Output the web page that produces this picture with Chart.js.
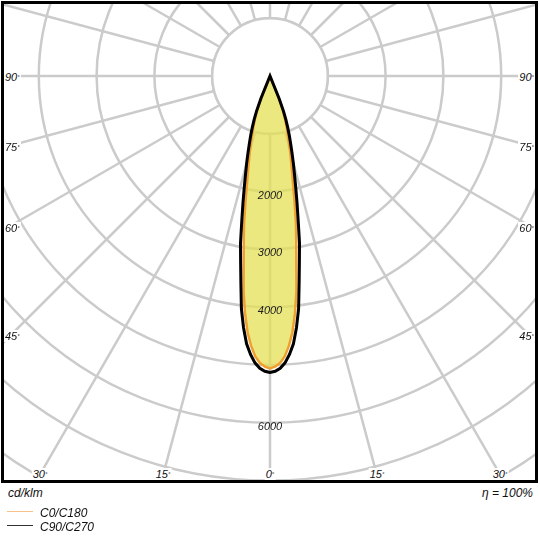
<!DOCTYPE html>
<html>
<head>
<meta charset="utf-8">
<script src="https://cdn.jsdelivr.net/npm/chart.js@4.4.1/dist/chart.umd.min.js"></script>
<style>
  body { margin: 0; background: #fff; font-family: "Liberation Sans", Arial, sans-serif; font-style: italic; color: #111; }
  #frame { position: absolute; left: 1px; top: 1px; width: 531px; height: 476px; border: 3px solid #000; overflow: hidden; }
  #wrap { position: absolute; left: -312px; top: -506px; width: 1156px; height: 1156px; }
  .ang { position: absolute; font-size: 11px; line-height: 12px; background: #fff; padding: 0 1px; white-space: nowrap; }
  .ang.b { transform: translateX(-50%); }
  .deg { font-size: 6px; vertical-align: top; }
  .txt { position: absolute; font-size: 12px; line-height: 14px; white-space: nowrap; }
  .key { position: absolute; left: 7px; width: 26px; height: 0; }
</style>
</head>
<body>
<div id="frame">
  <div id="wrap"><canvas id="polar"></canvas></div>
  <span class="ang" style="left:0;top:67px">90<span class="deg">°</span></span>
  <span class="ang" style="left:0;top:137px">75<span class="deg">°</span></span>
  <span class="ang" style="left:0;top:218px">60<span class="deg">°</span></span>
  <span class="ang" style="left:0;top:326px">45<span class="deg">°</span></span>
  <span class="ang" style="right:0;top:67px">90<span class="deg">°</span></span>
  <span class="ang" style="right:0;top:137px">75<span class="deg">°</span></span>
  <span class="ang" style="right:0;top:218px">60<span class="deg">°</span></span>
  <span class="ang" style="right:0;top:326px">45<span class="deg">°</span></span>
  <span class="ang b" style="left:36px;top:464px">30<span class="deg">°</span></span>
  <span class="ang b" style="left:159px;top:464px">15<span class="deg">°</span></span>
  <span class="ang b" style="left:266px;top:464px">0<span class="deg">°</span></span>
  <span class="ang b" style="left:373px;top:464px">15<span class="deg">°</span></span>
  <span class="ang b" style="left:496px;top:464px">30<span class="deg">°</span></span>
</div>
<span class="txt" style="left:8px;top:486px">cd/klm</span>
<span class="txt" style="right:7px;top:486px">η = 100%</span>
<div class="key" style="top:511px;border-top:1.5px solid #f5c38a"></div>
<span class="txt" style="left:40px;top:506px">C0/C180</span>
<div class="key" style="top:525px;border-top:1.5px solid #333"></div>
<span class="txt" style="left:40px;top:520px">C90/C270</span>

<script>
// gamma angles (deg from nadir) and intensities in cd/klm
const gammaAngles = [0, 1, 2, 3, 4, 5, 6, 7, 8, 9, 10, 11, 12, 13, 14, 15, 16, 17, 18, 19, 20, 21, 22, 23];
const c0c180 = [5060, 5030, 4970, 4860, 4680, 4450, 4130, 3750, 3270, 2900, 2580, 2230, 1920, 1690, 1500, 1340, 1180, 1050, 930, 810, 690, 540, 320, 0];
const c90c270 = [5130, 5110, 5060, 4970, 4830, 4650, 4380, 4060, 3620, 3250, 2940, 2560, 2250, 1980, 1750, 1560, 1380, 1220, 1080, 940, 800, 650, 420, 0];
const ringLabels = [2000, 3000, 4000, 6000];
const rMax = 10000;
const rStep = 1000;

const gridColor = '#cbcbcb';
const steps = 360;
const labels = [];
for (let i = 0; i < steps; i++) labels.push(String(i));

// full circle: one half-plane for C0 / C90, mirrored for C180 / C270
function fullCircle(vals) {
  const out = new Array(steps).fill(0);
  gammaAngles.forEach((g, k) => {
    out[g] = vals[k];
    out[(steps - g) % steps] = vals[k];
  });
  return out;
}

const polarExtras = {
  id: 'polarExtras',
  beforeDatasetsDraw(chart) {
    const r = chart.scales.r, ctx = chart.ctx;
    const inner = r.getDistanceFromCenterForValue(rStep);
    ctx.save();
    ctx.beginPath();
    ctx.arc(r.xCenter, r.yCenter, inner, 0, Math.PI * 2);
    ctx.fillStyle = '#fff';
    ctx.fill();
    ctx.lineWidth = 2.5;
    ctx.strokeStyle = gridColor;
    ctx.stroke();
    ctx.restore();
  },
  afterDatasetsDraw(chart) {
    const r = chart.scales.r, ctx = chart.ctx;
    ctx.save();
    ctx.font = 'italic 11px "Liberation Sans", Arial, sans-serif';
    ctx.fillStyle = '#222';
    ctx.textAlign = 'center';
    ctx.textBaseline = 'middle';
    ringLabels.forEach(v => {
      const d = r.getDistanceFromCenterForValue(v);
      ctx.fillText(String(v), r.xCenter, r.yCenter + d + 4);
    });
    ctx.restore();
  }
};

new Chart(document.getElementById('polar'), {
  type: 'radar',
  data: {
    labels: labels,
    datasets: [
      {
        label: 'C90/C270',
        data: fullCircle(c90c270),
        borderColor: '#000',
        borderWidth: 3,
        fill: false,
        pointRadius: 0,
        tension: 0
      },
      {
        label: 'C0/C180',
        data: fullCircle(c0c180),
        borderColor: '#f0a030',
        borderWidth: 2.5,
        backgroundColor: 'rgba(230, 224, 86, 0.75)',
        fill: 'origin',
        pointRadius: 0,
        tension: 0
      }
    ]
  },
  options: {
    responsive: true,
    maintainAspectRatio: false,
    animation: false,
    events: [],
    plugins: {
      legend: { display: false },
      tooltip: { enabled: false }
    },
    scales: {
      r: {
        min: 0,
        max: rMax,
        startAngle: 180,
        ticks: { display: false, stepSize: rStep },
        pointLabels: { display: false },
        grid: { circular: true, color: gridColor, lineWidth: 2.5 },
        angleLines: {
          display: true,
          color: gridColor,
          lineWidth: (ctx) => (ctx.index % 15 === 0 ? 2.5 : 0)
        }
      }
    }
  },
  plugins: [polarExtras]
});
</script>
</body>
</html>
